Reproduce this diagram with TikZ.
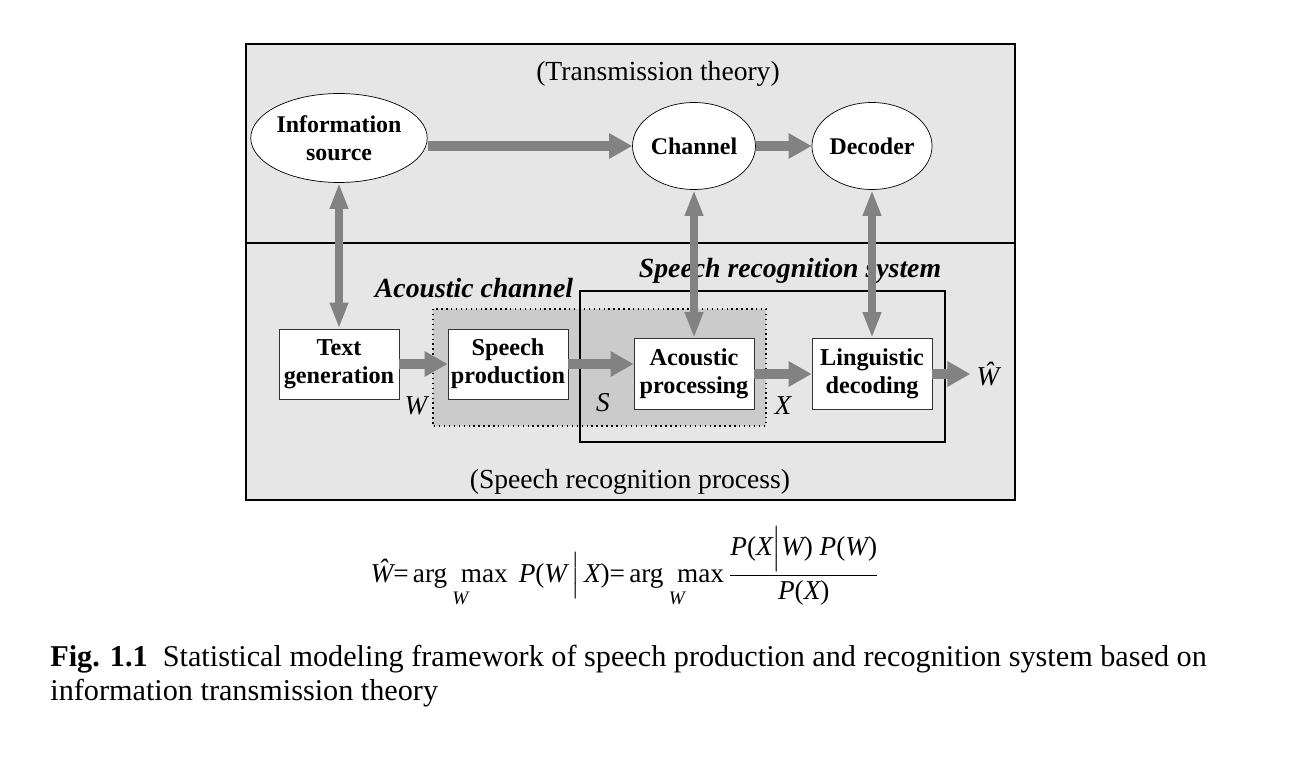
\documentclass[tikz,border=0pt]{standalone}
\usepackage{amsmath}
\usepackage{fontspec}
\setmainfont{Liberation Serif}
\usepackage{tikz}
\usetikzlibrary{arrows.meta,positioning,shapes,calc}

\definecolor{bggray}{HTML}{E6E6E6}
\definecolor{chgray}{HTML}{CBCBCB}
\definecolor{arrgray}{HTML}{828282}
\newcommand{\vi}[1]{\textit{#1}}

\begin{document}
\begin{tikzpicture}[x=0.02cm,y=-0.02cm,
  src/.style={ellipse,draw,fill=white,inner sep=0pt,align=center,
    font=\fontsize{13.6}{15.9}\selectfont\bfseries},
  blk/.style={rectangle,draw=black!80,fill=white,inner sep=0pt,minimum width=2.4cm,
    minimum height=1.4cm,align=center,font=\fontsize{13.8}{15.9}\selectfont\bfseries},
  sig/.style={font=\fontsize{15.5}{18}\selectfont\itshape},
  ttl/.style={font=\fontsize{15.7}{18}\selectfont},
  grp/.style={font=\fontsize{15.8}{18}\selectfont\bfseries\itshape},
  pipe/.style={draw=arrgray,line width=0.2cm,-{Triangle[length=0.46cm,width=0.48cm]}},
  dpipe/.style={draw=arrgray,line width=0.16cm,
    {Triangle[length=0.52cm,width=0.34cm]}-{Triangle[length=0.52cm,width=0.34cm]}}]

      \useasboundingbox (0,0) rectangle (1300,780);

      % two halves of the frame
      \draw[line width=0.9pt,fill=bggray] (246,44) rectangle (1015,500);
      \draw[line width=0.9pt] (246,243) -- (1015,243);

      \draw[dotted,line width=0.8pt,fill=chgray] (433,309) rectangle (766,426);
      \draw[line width=1.6pt] (580,291) rectangle (945,442);

      \node[ttl] (ttheory) at (658,74) {(Transmission theory)};
      \node[ttl] (sproc) at (630,482) {(Speech recognition process)};
      \node[grp] (acchan) at (474,288) {Acoustic channel};
      \node[grp] (srsys) at (790,271) {Speech recognition system};

      \node[src,minimum width=3.36cm,minimum height=1.78cm] (info) at (339,138) {Information\\source};
      \node[src,minimum width=2.46cm,minimum height=1.74cm] (chan) at (694,146) {Channel};
      \node[src,minimum width=2.4cm,minimum height=1.74cm] (dec) at (872,146) {Decoder};

      \node[blk] (textgen) at (339,364) {Text\\generation};
      \node[blk] (speechprod) at (508,364) {Speech\\production};
      \node[blk,minimum height=1.42cm] (acproc) at (694,374) {Acoustic\\processing};
      \node[blk,minimum height=1.42cm] (lingdec) at (872,374) {Linguistic\\decoding};

      \node[sig] (wsig) at (416,406) {W};
      \node[sig] (ssig) at (603,403) {S};
      \node[sig] (xsig) at (783,406) {X};
      \node[sig] (what) at (988,374) {\^{W}};

      % connectors
      \draw[pipe] (info.east |- chan.west) -- (chan.west);
      \draw[pipe] (chan.east) -- (dec.west);
      \draw[dpipe] (info.south) -- (textgen.north);
      \draw[dpipe] (chan.south) -- (acproc.north);
      \draw[dpipe] (dec.south) -- (lingdec.north);
      \draw[pipe] (textgen.east) -- (speechprod.west);
      \draw[pipe] (speechprod.east) -- (speechprod.east -| acproc.west);
      \draw[pipe] (acproc.east) -- (lingdec.west);
      \draw[pipe] (lingdec.east) -- (what.west);

      \node[font=\fontsize{15.5}{18}\selectfont] (eqn) at (625,567)
        {$\vi{\^W}\text{=}\mathop{\text{arg\ \ max}}\limits_{\vi{W}}\ \vi{P}\text{(}\vi{W}\,\Big|\,\vi{X}\text{)=}\mathop{\text{arg\ \ max}}\limits_{\vi{W}}\dfrac{\vi{P}\text{(}\vi{X}\Big|\vi{W}\text{) }\vi{P}\text{(}\vi{W}\text{)}}{\vi{P}\text{(}\vi{X}\text{)}}$};

      \node[anchor=north west,align=left,inner sep=0pt,font=\fontsize{17.2}{19.3}\selectfont] (caption) at (50,645)
        {\textbf{Fig. 1.1}\hspace{0.5em}Statistical modeling framework of speech production and recognition system based on\\information transmission theory};

    \end{tikzpicture}
\end{document}
